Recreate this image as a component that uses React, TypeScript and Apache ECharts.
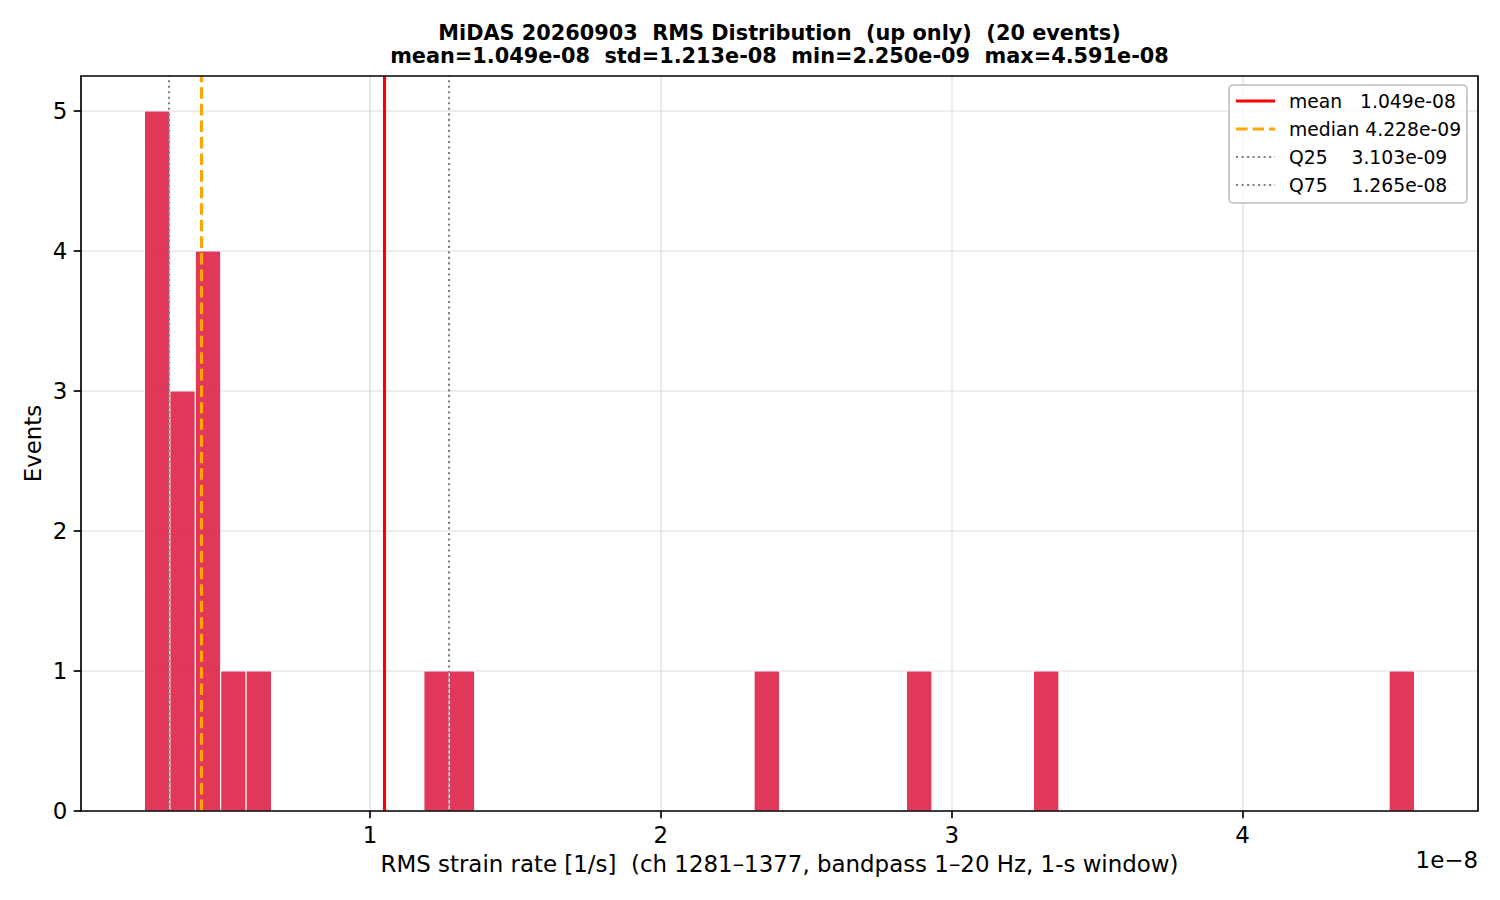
import React, { useEffect, useRef } from "react";
import * as echarts from "echarts";

// ---------- data ----------
const TITLE_LINE_1 = "MiDAS 20260903  RMS Distribution  (up only)  (20 events)";
const X_LABEL = "RMS strain rate [1/s]  (ch 1281–1377, bandpass 1–20 Hz, 1-s window)";
const Y_LABEL = "Events";
const OFFSET_TEXT = "1e−8";
const SCALE = 1e-8;

const HIST_MIN = 2.25e-9;
const HIST_MAX = 4.591e-8;
const N_BINS = 50;
const BIN_COUNTS = [
  5, 3, 4, 1, 1, 0, 0, 0, 0, 0,
  0, 1, 1, 0, 0, 0, 0, 0, 0, 0,
  0, 0, 0, 0, 1, 0, 0, 0, 0, 0,
  1, 0, 0, 0, 0, 1, 0, 0, 0, 0,
  0, 0, 0, 0, 0, 0, 0, 0, 0, 1,
];

const STAT_MEAN = 1.049e-8;
const STAT_STD = 1.213e-8;
const STAT_MEDIAN = 4.228e-9;
const STAT_Q25 = 3.103e-9;
const STAT_Q75 = 1.265e-8;

const X_TICKS = [1, 2, 3, 4];
const Y_TICKS = [0, 1, 2, 3, 4, 5];
const Y_MAX = 5.25;

const LEGEND_NAMES = ["mean   ", "median ", "Q25    ", "Q75    "];
const LEGEND_VALUES = [STAT_MEAN, STAT_MEDIAN, STAT_Q25, STAT_Q75];

// ---------- helpers / styles ----------
const FONT = "DejaVu Sans";
const PX = 150 / 72; // points -> px at 150 dpi
const LABEL_SIZE = 11 * PX;

function fmtExp(v: number): string {
  const s = v.toExponential(3);
  const [m, e] = s.split("e");
  const sign = e.startsWith("-") ? "-" : "+";
  const digits = e.replace(/^[+-]/, "").padStart(2, "0");
  return `${m}e${sign}${digits}`;
}

const TITLE_LINE_2 = `mean=${fmtExp(STAT_MEAN)}  std=${fmtExp(STAT_STD)}  min=${fmtExp(HIST_MIN)}  max=${fmtExp(HIST_MAX)}`;

const LINE_STYLES = [
  { color: "#ff0000", width: 1.5 * PX, type: "solid" as any },
  { color: "#ffa500", width: 1.5 * PX, type: [5.55 * PX, 2.4 * PX] as any },
  { color: "#808080", width: 1 * PX, type: [1 * PX, 1.65 * PX] as any },
  { color: "#808080", width: 1 * PX, type: [1 * PX, 1.65 * PX] as any },
];

const GRID = { left: 81, right: 22, top: 76, bottom: 89 };
const BAR_FILL = "rgba(220,20,60,0.85)";

export default function App() {
  const ref = useRef<HTMLDivElement>(null);

  useEffect(() => {
    if (!ref.current) return;
    const chart = echarts.init(ref.current, undefined, { renderer: "svg" });

    const binW = (HIST_MAX - HIST_MIN) / N_BINS;
    const histData = BIN_COUNTS.map((c, i) => [
      (HIST_MIN + i * binW) / SCALE,
      (HIST_MIN + (i + 1) * binW) / SCALE,
      c,
    ]);
    const span = (HIST_MAX - HIST_MIN) / SCALE;
    const xMin = HIST_MIN / SCALE - 0.05 * span;
    const xMax = HIST_MAX / SCALE + 0.05 * span;

    const plotLeft = GRID.left;
    const plotRight = 1500 - GRID.right;
    const centerX = (plotLeft + plotRight) / 2;

    const legendX = 1229;
    const legendY = 85;
    const legendElems: any[] = [
      {
        type: "rect",
        z: 100,
        shape: { x: legendX, y: legendY, width: 238, height: 118, r: 4 },
        style: { fill: "rgba(255,255,255,0.8)", stroke: "#cccccc", lineWidth: 2 },
      },
    ];
    LEGEND_NAMES.forEach((name, i) => {
      const y = legendY + 16 + i * 28;
      const ls = LINE_STYLES[i];
      legendElems.push({
        type: "line",
        z: 101,
        shape: { x1: legendX + 7, y1: y, x2: legendX + 46, y2: y },
        style: {
          stroke: ls.color,
          lineWidth: ls.width,
          lineDash: Array.isArray(ls.type) ? ls.type : null,
        },
      });
      legendElems.push({
        type: "text",
        z: 101,
        x: legendX + 60,
        y,
        style: {
          text: name + fmtExp(LEGEND_VALUES[i]),
          font: `${9 * PX}px '${FONT}'`,
          fill: "#000",
          verticalAlign: "middle",
          align: "left",
        },
      });
    });

    const option: any = {
      animation: false,
      backgroundColor: "#ffffff",
      textStyle: { fontFamily: FONT },
      grid: {
        ...GRID,
        show: true,
        borderColor: "#000",
        borderWidth: 0.8 * PX,
        backgroundColor: "transparent",
        z: 10,
      },
      xAxis: {
        type: "value",
        min: xMin,
        max: xMax,
        axisLine: { show: false },
        axisTick: {
          show: true,
          inside: false,
          length: 3.5 * PX,
          lineStyle: { color: "#000", width: 0.8 * PX },
          customValues: X_TICKS,
        },
        axisLabel: {
          customValues: X_TICKS,
          fontSize: LABEL_SIZE,
          color: "#000",
          margin: 12.5,
          fontFamily: FONT,
        },
        splitLine: {
          show: true,
          lineStyle: { color: "#b0b0b0", opacity: 0.3, width: 0.8 * PX },
        },
        name: X_LABEL,
        nameLocation: "middle",
        nameGap: 41,
        nameTextStyle: { fontSize: LABEL_SIZE, color: "#000", fontFamily: FONT },
      },
      yAxis: {
        type: "value",
        min: 0,
        max: Y_MAX,
        axisLine: { show: false },
        axisTick: {
          show: true,
          inside: false,
          length: 3.5 * PX,
          lineStyle: { color: "#000", width: 0.8 * PX },
          customValues: Y_TICKS,
        },
        axisLabel: {
          customValues: Y_TICKS,
          fontSize: LABEL_SIZE,
          color: "#000",
          margin: 13.6,
          fontFamily: FONT,
        },
        splitLine: {
          show: true,
          lineStyle: { color: "#b0b0b0", opacity: 0.3, width: 0.8 * PX },
        },
        name: Y_LABEL,
        nameLocation: "middle",
        nameGap: 37,
        nameMoveOverlap: false,
        nameTextStyle: { fontSize: LABEL_SIZE, color: "#000", fontFamily: FONT },
      },
      series: [
        {
          type: "custom",
          data: histData,
          encode: { x: [0, 1], y: 2 },
          renderItem: (params: any, api: any) => {
            const x0 = api.value(0);
            const x1 = api.value(1);
            const c = api.value(2);
            if (!c) return null;
            const p0 = api.coord([x0, c]);
            const p1 = api.coord([x1, 0]);
            return {
              type: "rect",
              shape: { x: p0[0], y: p0[1], width: p1[0] - p0[0], height: p1[1] - p0[1] },
              style: { fill: BAR_FILL, stroke: "#ffffff", lineWidth: 0.5 * PX },
            };
          },
          markLine: {
            silent: true,
            symbol: ["none", "none"],
            label: { show: false },
            animation: false,
            data: LEGEND_VALUES.map((v, i) => ({
              xAxis: v / SCALE,
              lineStyle: { ...LINE_STYLES[i] },
            })),
          },
        },
      ],
      graphic: [
        {
          type: "text",
          z: 100,
          x: centerX,
          y: 33,
          style: {
            text: TITLE_LINE_1,
            font: `bold ${10 * PX}px '${FONT}'`,
            fill: "#000",
            align: "center",
            verticalAlign: "middle",
          },
        },
        {
          type: "text",
          z: 100,
          x: centerX,
          y: 56,
          style: {
            text: TITLE_LINE_2,
            font: `bold ${10 * PX}px '${FONT}'`,
            fill: "#000",
            align: "center",
            verticalAlign: "middle",
          },
        },
        {
          type: "text",
          z: 100,
          x: plotRight,
          y: 860,
          style: {
            text: OFFSET_TEXT,
            font: `${LABEL_SIZE}px '${FONT}'`,
            fill: "#000",
            align: "right",
            verticalAlign: "middle",
          },
        },
        ...legendElems,
      ],
    };

    chart.setOption(option);
    return () => chart.dispose();
  }, []);

  return (
    <div
      ref={ref}
      style={{ position: "fixed", left: 0, top: 0, width: 1500, height: 900, background: "#fff" }}
    />
  );
}
